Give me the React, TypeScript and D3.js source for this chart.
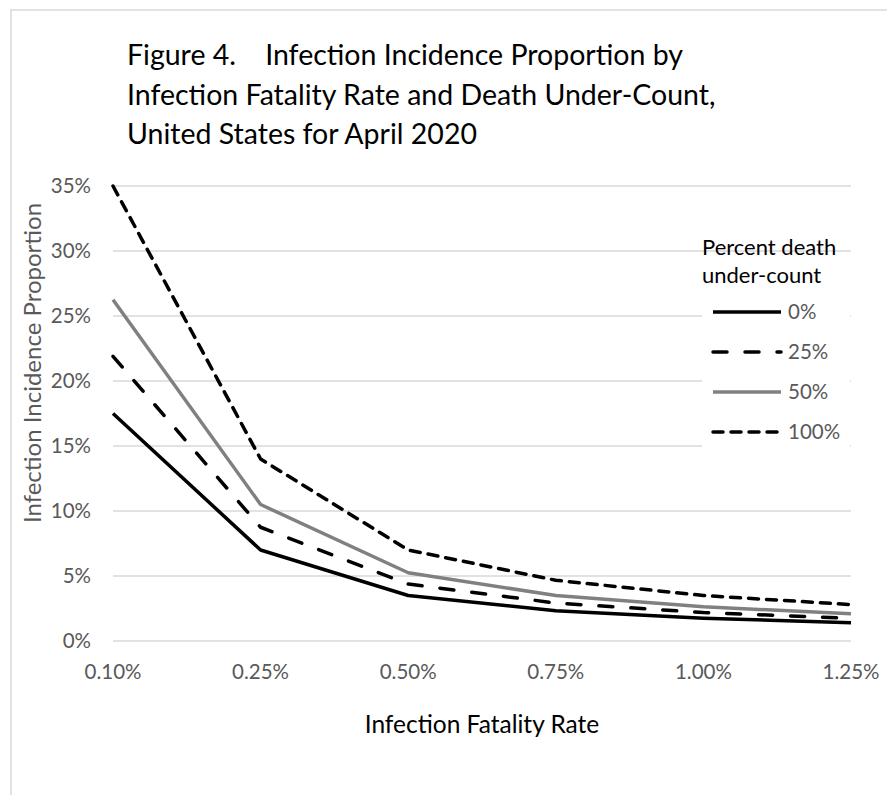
import React, { useEffect, useRef } from 'react';
import * as d3 from 'd3';

const fatalityRates = ['0.10%', '0.25%', '0.50%', '0.75%', '1.00%', '1.25%'];
const yTicks = [0, 0.05, 0.1, 0.15, 0.2, 0.25, 0.3, 0.35];

const underCount0 = [0.175, 0.07, 0.035, 0.0233, 0.0175, 0.014];
const underCount25 = [0.219, 0.0875, 0.0438, 0.0292, 0.0219, 0.0175];
const underCount50 = [0.2625, 0.105, 0.0525, 0.035, 0.0263, 0.021];
const underCount100 = [0.35, 0.14, 0.07, 0.0467, 0.035, 0.028];

const titleLines = [
  'Figure 4.    Infection Incidence Proportion by',
  'Infection Fatality Rate and Death Under-Count,',
  'United States for April 2020',
];

const series = [
  { name: '0%', values: underCount0, color: '#000000', dash: null },
  { name: '25%', values: underCount25, color: '#000000', dash: '14,18' },
  { name: '50%', values: underCount50, color: '#808080', dash: null },
  { name: '100%', values: underCount100, color: '#000000', dash: '10,8' },
];

const W = 887;
const H = 795;
const FONT = 'Lato, "Open Sans", sans-serif';

const App: React.FC = () => {
  const svgRef = useRef<SVGSVGElement>(null);

  useEffect(() => {
    document.body.style.margin = '0';
    const svg = d3.select(svgRef.current);
    svg.selectAll('*').remove();

    const x = d3.scalePoint<string>().domain(fatalityRates).range([113, 851]);
    const y = d3.scaleLinear().domain([0, 0.35]).range([641, 186]);

    svg.append('rect').attr('width', W).attr('height', H).attr('fill', 'white');

    // chart frame
    svg.append('path')
      .attr('d', `M11,${H} L11,10 L${W},10`)
      .attr('fill', 'none')
      .attr('stroke', '#d9d9d9')
      .attr('stroke-width', 1.5);

    // title
    const title = svg.append('text')
      .attr('font-family', FONT)
      .attr('font-size', 28.5)
      .attr('fill', '#000');
    titleLines.forEach((t, i) => {
      title.append('tspan')
        .attr('x', 127)
        .attr('y', 65 + i * 39.5)
        .style('white-space', 'pre')
        .text(t);
    });

    // gridlines
    svg.append('g')
      .selectAll('line')
      .data(yTicks)
      .enter().append('line')
      .attr('x1', x(fatalityRates[0])!)
      .attr('x2', x(fatalityRates[fatalityRates.length - 1])!)
      .attr('y1', d => y(d))
      .attr('y2', d => y(d))
      .attr('stroke', '#d9d9d9')
      .attr('stroke-width', 1.3);

    // y tick labels
    svg.append('g')
      .selectAll('text')
      .data(yTicks)
      .enter().append('text')
      .attr('x', 91)
      .attr('y', d => y(d))
      .attr('dy', '0.35em')
      .attr('text-anchor', 'end')
      .attr('font-family', FONT)
      .attr('font-size', 20.5)
      .attr('fill', '#595959')
      .text(d => `${Math.round(d * 100)}%`);

    // x tick labels
    svg.append('g')
      .selectAll('text')
      .data(fatalityRates)
      .enter().append('text')
      .attr('x', d => x(d)!)
      .attr('y', 672)
      .attr('dy', '0.35em')
      .attr('text-anchor', 'middle')
      .attr('font-family', FONT)
      .attr('font-size', 20.5)
      .attr('fill', '#595959')
      .text(d => d);

    // axis titles
    svg.append('text')
      .attr('transform', 'translate(33,363) rotate(-90)')
      .attr('dy', '0.35em')
      .attr('text-anchor', 'middle')
      .attr('font-family', FONT)
      .attr('font-size', 24)
      .attr('fill', '#595959')
      .text('Infection Incidence Proportion');

    svg.append('text')
      .attr('x', 482)
      .attr('y', 733)
      .attr('text-anchor', 'middle')
      .attr('font-family', FONT)
      .attr('font-size', 24.5)
      .attr('fill', '#000')
      .text('Infection Fatality Rate');

    // lines
    const line = d3.line<number>()
      .x((_d, i) => x(fatalityRates[i])!)
      .y(d => y(d));

    series.forEach(s => {
      svg.append('path')
        .datum(s.values)
        .attr('d', line)
        .attr('fill', 'none')
        .attr('stroke', s.color)
        .attr('stroke-width', 3.5)
        .attr('stroke-linejoin', 'round')
        .attr('stroke-linecap', s.dash ? 'round' : 'butt')
        .attr('stroke-dasharray', s.dash);
    });

    // legend
    const lg = svg.append('g');
    lg.append('rect')
      .attr('x', 702)
      .attr('y', 302)
      .attr('width', 148)
      .attr('height', 156)
      .attr('fill', 'white');

    lg.append('text')
      .attr('font-family', FONT)
      .attr('font-size', 22)
      .attr('fill', '#000')
      .selectAll('tspan')
      .data(['Percent death', 'under-count'])
      .enter().append('tspan')
      .attr('x', 702)
      .attr('y', (_d, i) => 255 + i * 28)
      .text(d => d);

    series.forEach((s, i) => {
      const cy = 312 + i * 40;
      lg.append('line')
        .attr('x1', 713)
        .attr('x2', 781)
        .attr('y1', cy)
        .attr('y2', cy)
        .attr('stroke', s.color)
        .attr('stroke-width', 3.5)
        .attr('stroke-linecap', s.dash ? 'round' : 'butt')
        .attr('stroke-dasharray', s.dash);
      lg.append('text')
        .attr('x', 788)
        .attr('y', cy)
        .attr('dy', '0.35em')
        .attr('font-family', FONT)
        .attr('font-size', 20.5)
        .attr('fill', '#595959')
        .text(s.name);
    });
  }, []);

  return <svg ref={svgRef} width={W} height={H} style={{ display: 'block' }} />;
};

export default App;
